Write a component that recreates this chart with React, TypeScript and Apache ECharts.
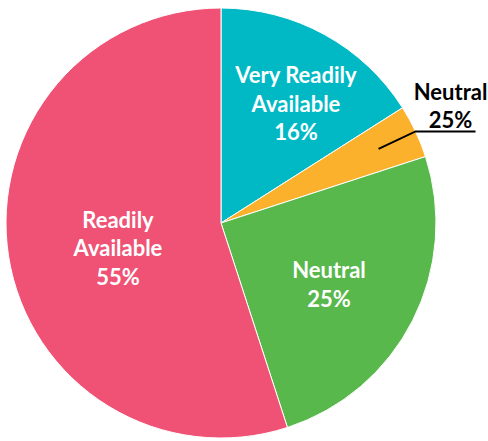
import React, { useEffect, useRef } from "react";
import * as echarts from "echarts";

const categories = ["Very Readily\nAvailable", "Neutral", "Neutral", "Readily\nAvailable"];
const values = [16, 4, 25, 55];
const displayPercents = ["16%", "25%", "25%", "55%"];
const colors = ["#00B9C5", "#FBB12B", "#58B84B", "#EF5275"];
const labelRadiusFactor = [0.658, 0.81, 0.577, 0.493];
const labelAngleShift = [3.2, 0, 2.5, -4.6];
const OUTSIDE_INDEX = 1;

const CX = 221;
const CY = 223;
const R = 215;

export default function App() {
  const ref = useRef<HTMLDivElement>(null);
  useEffect(() => {
    document.body.style.margin = "0";
    const chart = echarts.init(ref.current!, null, { renderer: "svg" });
    const total = values.reduce((a, b) => a + b, 0);
    const mids: number[] = [];
    let acc = 0;
    values.forEach((v) => {
      mids.push(((acc + v / 2) / total) * 360);
      acc += v;
    });
    const polar = (i: number, f: number) => {
      const rad = ((mids[i] + labelAngleShift[i]) * Math.PI) / 180;
      return [CX + Math.sin(rad) * R * f, CY - Math.cos(rad) * R * f];
    };
    const start = polar(OUTSIDE_INDEX, labelRadiusFactor[OUTSIDE_INDEX]);
    const edge = polar(OUTSIDE_INDEX, 1);
    const data = values.map((v, i) => ({
      name: categories[i],
      value: v,
      itemStyle: { color: colors[i] },
      label: {
        show: true,
        position: i === OUTSIDE_INDEX ? "outside" : "inside",
        color: i === OUTSIDE_INDEX ? "#000" : "#fff",
        formatter: () => categories[i] + "\n" + displayPercents[i],
      },
      labelLine: { show: false },
    }));
    chart.setOption({
      animation: false,
      series: [
        {
          type: "pie",
          center: [CX, CY],
          radius: R,
          startAngle: 90,
          clockwise: true,
          avoidLabelOverlap: false,
          itemStyle: { borderColor: "#fff", borderWidth: 1 },
          label: {
            fontFamily: "Lato",
            fontWeight: "bold",
            fontSize: 22,
            lineHeight: 28.5,
            align: "center",
          },
          labelLine: { show: false },
          data,
          labelLayout: (p: any) => {
            const i = p.dataIndex;
            if (i === OUTSIDE_INDEX) {
              return {
                x: edge[0] + 35,
                y: edge[1] + 2.5,
                align: "center",
                verticalAlign: "bottom",
              };
            }
            const pt = polar(i, labelRadiusFactor[i]);
            return { x: pt[0], y: pt[1], align: "center", verticalAlign: "middle" };
          },
        },
      ],
      graphic: [
        {
          type: "polyline",
          z: 100,
          shape: {
            points: [
              [start[0], start[1]],
              [edge[0], edge[1]],
              [edge[0] + 60, edge[1]],
            ],
          },
          style: { stroke: "#000", lineWidth: 2, fill: "none" },
        },
      ],
    });
    return () => chart.dispose();
  }, []);
  return <div ref={ref} style={{ width: 488, height: 441 }} />;
}
